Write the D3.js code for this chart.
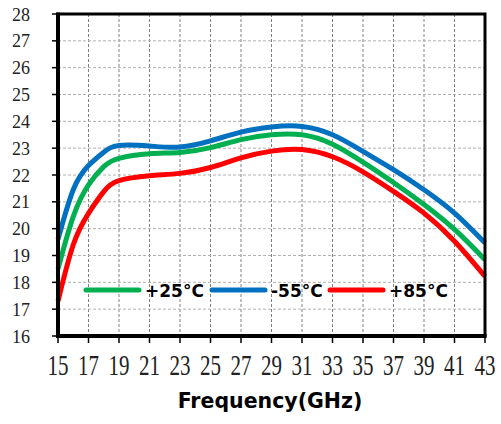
<!DOCTYPE html>
<html>
<head>
<meta charset="utf-8">
<script src="https://cdn.jsdelivr.net/npm/d3@7"></script>
<style>
  html, body { margin: 0; padding: 0; background: #fff; }
  svg { display: block; }
</style>
</head>
<body>
<svg id="chart" width="501" height="424"></svg>
<script>
const freq = [15,16,17,18,19,21,23,25,27,29,31,33,35,37,39,41,43];
const gain25 = [18.5,20.45,21.63,22.31,22.62,22.79,22.84,23.02,23.32,23.5,23.5,23.15,22.48,21.72,20.9,19.97,18.84];
const gainM55 = [19.6,21.45,22.35,22.85,23.1,23.08,23.04,23.27,23.6,23.79,23.81,23.5,22.88,22.2,21.45,20.58,19.47];
const gain85 = [17.3,19.4,20.57,21.38,21.79,21.97,22.06,22.28,22.64,22.89,22.95,22.68,22.12,21.39,20.58,19.53,18.22];
const xTicks = [15,17,19,21,23,25,27,29,31,33,35,37,39,41,43];
const yTicks = [16,17,18,19,20,21,22,23,24,25,26,27,28];
const seriesNames = ["+25°C", "-55°C", "+85°C"];
const seriesColors = ["#00B050", "#0070C0", "#FF0000"];
const seriesData = [gain25, gainM55, gain85];

const svg = d3.select("#chart");
const L = 58, R = 485, T = 14, B = 336;
const x = d3.scaleLinear().domain([15, 43]).range([L, R]);
const y = d3.scaleLinear().domain([16, 28]).range([B, T]);

// grid
svg.append("g").selectAll("line").data(xTicks.slice(1, -1)).join("line")
  .attr("x1", d => x(d)).attr("x2", d => x(d)).attr("y1", T).attr("y2", B)
  .attr("stroke", "#808080").attr("stroke-width", 1).attr("stroke-dasharray", "3,2");
svg.append("g").selectAll("line").data(yTicks.slice(1, -1)).join("line")
  .attr("x1", L).attr("x2", R).attr("y1", d => y(d)).attr("y2", d => y(d))
  .attr("stroke", "#b0b0b0").attr("stroke-width", 1).attr("stroke-dasharray", "3,2");

// lines
const line = d3.line().x((d, i) => x(freq[i])).y(d => y(d)).curve(d3.curveNatural);
seriesData.forEach((s, k) => {
  svg.append("path").datum(s).attr("d", line).attr("fill", "none")
    .attr("stroke", seriesColors[k]).attr("stroke-width", 5).attr("stroke-linejoin", "round");
});

// frame
svg.append("rect").attr("x", L).attr("y", T).attr("width", R - L).attr("height", B - T)
  .attr("fill", "none").attr("stroke", "#000").attr("stroke-width", 3);
svg.append("line").attr("x1", L).attr("x2", L).attr("y1", T - 1.5).attr("y2", B + 2)
  .attr("stroke", "#000").attr("stroke-width", 4);
svg.append("line").attr("x1", L - 2).attr("x2", R + 1.5).attr("y1", B).attr("y2", B)
  .attr("stroke", "#000").attr("stroke-width", 4);

// ticks
svg.append("g").selectAll("line").data(yTicks).join("line")
  .attr("x1", L - 6).attr("x2", L).attr("y1", d => y(d)).attr("y2", d => y(d))
  .attr("stroke", "#000").attr("stroke-width", 1.5);
svg.append("g").selectAll("line").data(xTicks).join("line")
  .attr("x1", d => x(d)).attr("x2", d => x(d)).attr("y1", B).attr("y2", B + 7)
  .attr("stroke", "#000").attr("stroke-width", 1.5);

// tick labels
svg.append("g").selectAll("text").data(yTicks).join("text")
  .attr("x", 30).attr("y", d => y(d) + 6.5).attr("text-anchor", "end")
  .attr("font-family", "Liberation Serif, serif").attr("font-size", 18).attr("fill", "#222")
  .text(d => d);
svg.append("g").selectAll("text").data(xTicks).join("text")
  .attr("transform", d => `translate(${x(d)},375) scale(1,1.42)`)
  .attr("text-anchor", "middle")
  .attr("font-family", "Liberation Serif, serif").attr("font-size", 21).attr("fill", "#222")
  .text(d => d);

// axis title
svg.append("text").attr("x", 270).attr("y", 408).attr("text-anchor", "middle")
  .attr("font-family", "DejaVu Sans, sans-serif").attr("font-weight", "bold").attr("font-size", 20.5)
  .attr("fill", "#000").text("Frequency(GHz)");

// legend
const legX = [86, 212, 330];
seriesNames.forEach((n, k) => {
  svg.append("line").attr("x1", legX[k]).attr("x2", legX[k] + 53).attr("y1", 290).attr("y2", 290)
    .attr("stroke", seriesColors[k]).attr("stroke-width", 5).attr("stroke-linecap", "round");
  svg.append("text").attr("x", legX[k] + 59).attr("y", 296.5)
    .attr("font-family", "DejaVu Sans, sans-serif").attr("font-weight", "bold").attr("font-size", 17)
    .attr("fill", "#000").text(n);
});
</script>
</body>
</html>
